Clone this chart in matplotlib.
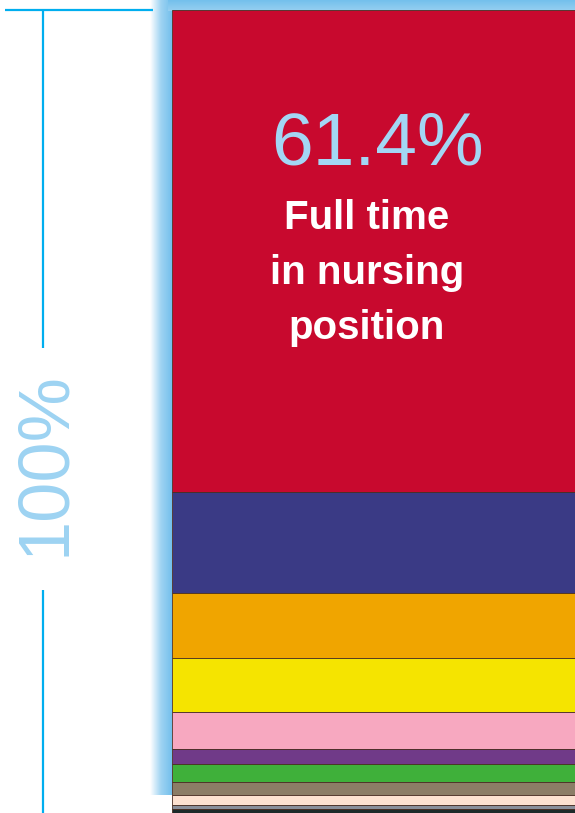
import matplotlib
matplotlib.use("Agg")
import matplotlib.pyplot as plt
import numpy as np
from matplotlib.colors import LinearSegmentedColormap

# Данные: доли сегментов столбца (сверху вниз), в процентах
segment_values = [61.4, 12.9, 8.2, 6.9, 4.7, 2.0, 2.2, 1.7, 1.3, 0.5, 1.0]
segment_colors = ['#c8092e', '#3a3a85', '#f0a500', '#f5e400', '#f7a8c0',
                  '#703a88', '#3fb03a', '#8c7d66', '#fde1d0', '#8a8f9a', '#1c2a2a']
main_value_label = '61.4%'
main_label_lines = ['Full time', 'in nursing', 'position']
bracket_label = '100%'

W, H = 575, 813
fig = plt.figure(figsize=(W / 100, H / 100), dpi=100)
fig.patch.set_facecolor('white')

# фон и декоративные элементы в пиксельных координатах
bg = fig.add_axes([0, 0, 1, 1])
bg.set_xlim(0, W)
bg.set_ylim(H, 0)
bg.axis('off')

glow = LinearSegmentedColormap.from_list('glow', ['#ffffff', '#9fd3f2', '#74c0ec'])
grad = np.tile(np.linspace(0, 1, 50), (10, 1))
bg.imshow(grad, extent=[150, 172, 795, 0], cmap=glow, aspect='auto', zorder=1)
bg.imshow(np.tile(np.linspace(1, 0.6, 20)[:, None], (1, 10)), extent=[168, 575, 11, 0],
          cmap=glow, vmin=0, vmax=1, aspect='auto', zorder=1)

# скобка "100%"
line_col = '#00aeef'
bg.plot([5, 153], [10, 10], color=line_col, lw=1.6, solid_capstyle='butt')
bg.plot([43, 43], [10, 348], color=line_col, lw=1.6, solid_capstyle='butt')
bg.plot([43, 43], [590, H], color=line_col, lw=1.6, solid_capstyle='butt')
bg.text(45, 463, bracket_label, rotation=90, ha='center', va='center',
        fontsize=52, color='#9dd3f2', family=['Liberation Sans', 'DejaVu Sans'])

# столбец
ax = fig.add_axes([172 / W, 0, (W - 172) / W, (H - 10) / H])
bottoms = np.concatenate([[0], np.cumsum(segment_values)[:-1]])
ax.bar([0], segment_values, bottom=bottoms, width=1.05, color=segment_colors,
       edgecolor='#4a2e22', linewidth=0.6, align='edge')
ax.set_xlim(0, 1.0)
ax.set_ylim(102.3, 0)
ax.axis('off')

# подписи
fig.text(378 / W, 1 - 145 / H, main_value_label, ha='center', va='center',
         fontsize=54, color='#a3d6f4', family=['Liberation Sans', 'DejaVu Sans'])
for i, line in enumerate(main_label_lines):
    fig.text(367 / W, 1 - (229 + 55 * i) / H, line, ha='center', va='baseline',
             fontsize=29, color='white', fontweight='bold',
             family=['Liberation Sans', 'DejaVu Sans'])

fig.savefig('out.png', dpi=100)
